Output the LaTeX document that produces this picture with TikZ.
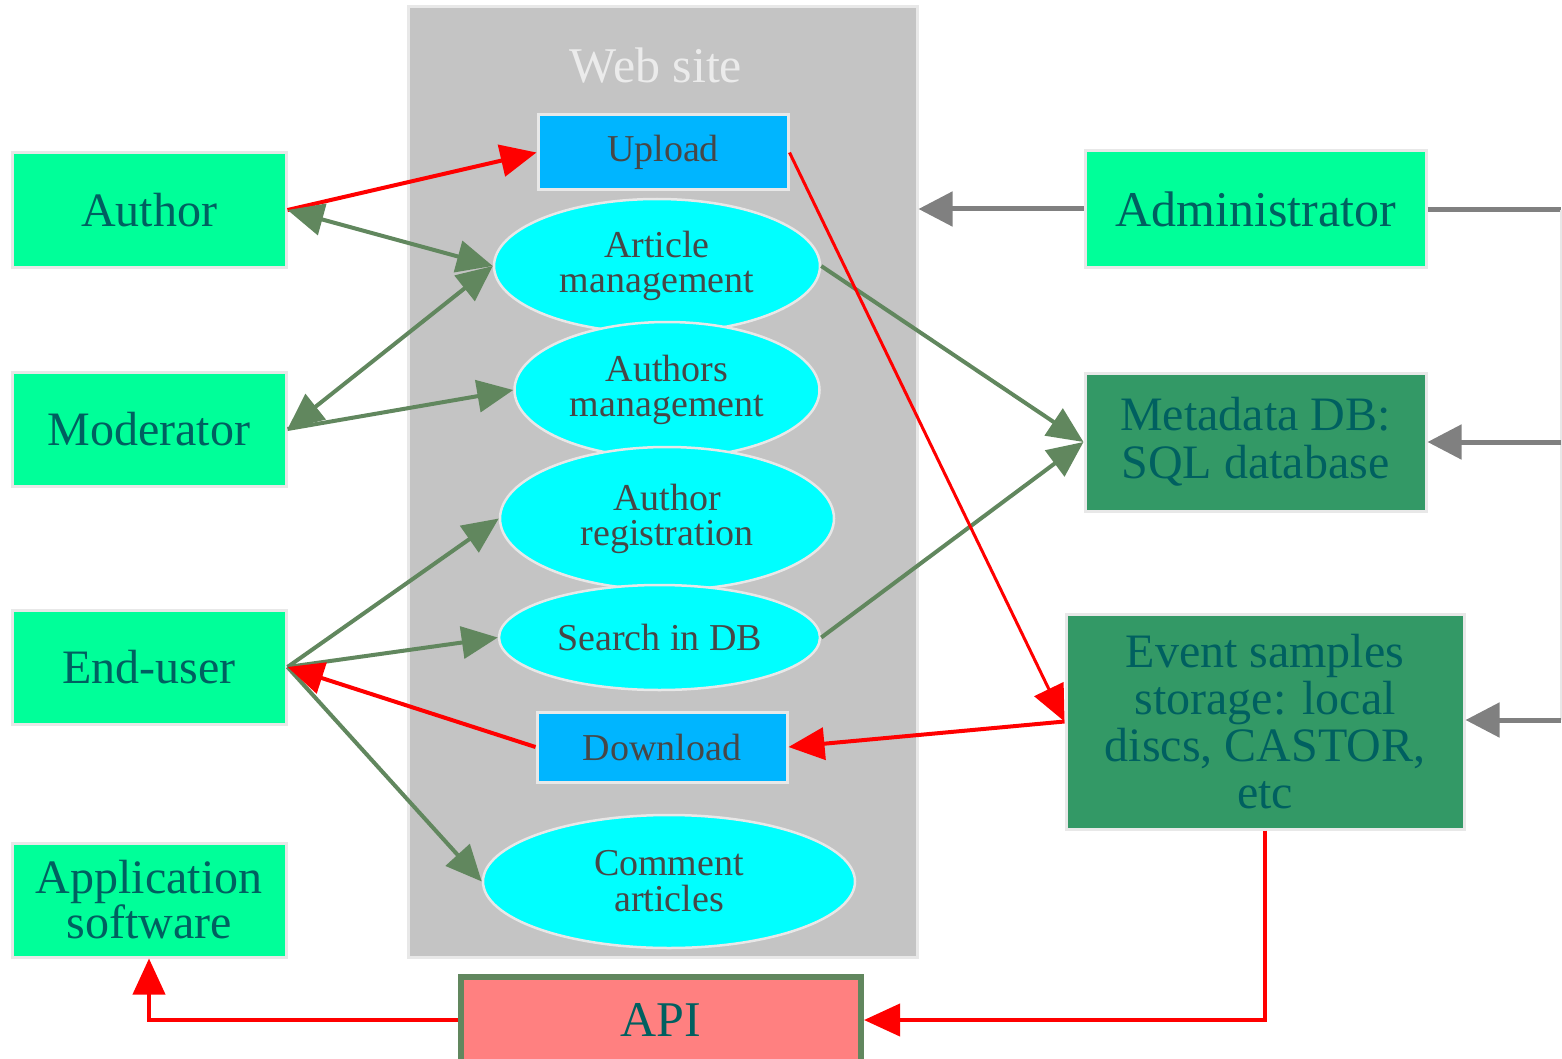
\documentclass[tikz,border=0pt]{standalone}
\usepackage{fontspec}
\setmainfont{Liberation Serif}
\newfontfamily\tmsfont{Liberation Serif}
\usetikzlibrary{arrows.meta,shapes.geometric}

\definecolor{boxgreen}{HTML}{00FF99}
\definecolor{seagreen}{HTML}{339966}
\definecolor{tealtext}{HTML}{006060}
\definecolor{casetext}{HTML}{474747}
\definecolor{casecyan}{HTML}{00FFFF}
\definecolor{skyblue}{HTML}{00B5FF}
\definecolor{panelgray}{HTML}{C4C4C4}
\definecolor{edgegray}{HTML}{E8E8E8}
\definecolor{titlegray}{HTML}{EBEBEB}
\definecolor{flowgreen}{HTML}{61875E}
\definecolor{ctrlgray}{HTML}{808080}
\definecolor{apired}{HTML}{FF8080}

\begin{document}
\begin{tikzpicture}[x=1pt,y=-1pt,
  actor/.style={rectangle, draw=edgegray, line width=3pt, fill=boxgreen,
    text=tealtext, inner sep=0pt, align=center,
    font=\tmsfont\fontsize{48}{45}\selectfont},
  store/.style={actor, fill=seagreen},
  usecase/.style={ellipse, draw=edgegray, line width=2.5pt, fill=casecyan,
    text=casetext, inner sep=0pt, align=center,
    font=\tmsfont\fontsize{38}{35}\selectfont},
  pagebox/.style={rectangle, draw=edgegray, line width=3pt, fill=skyblue,
    text=casetext, inner sep=0pt, minimum width=250pt,
    font=\tmsfont\fontsize{38}{40}\selectfont},
  tip/.tip={Triangle[length=36pt,width=32pt]},
  flow/.style={draw=flowgreen, line width=4pt, -tip},
  flow2/.style={draw=flowgreen, line width=4pt, tip-tip},
  dataflow/.style={draw=red, line width=4pt, -tip},
  ctrl/.style={draw=ctrlgray, line width=5pt, -{Triangle[length=34pt,width=34pt]}},
]
\clip (0,0) rectangle (1562,1059);
\useasboundingbox (0,0) rectangle (1562,1059);

% web site panel
\node[rectangle, draw=edgegray, line width=3pt, fill=panelgray,
      minimum width=509pt, minimum height=950pt, inner sep=0pt] (web) at (662.5,482) {};
\node[text=titlegray, font=\tmsfont\fontsize{50}{50}\selectfont] (webtitle) at (656,66) {Web site};

% pages and use cases
\node[pagebox, minimum height=75pt] (upload) at (663,152.5) {Upload};
\node[usecase, minimum width=326pt, minimum height=134pt] (art) at (657,266) {Article\\management};
\node[usecase, minimum width=305pt, minimum height=136pt] (authm) at (667,390) {Authors\\management};
\node[usecase, minimum width=334pt, minimum height=143pt] (reg) at (667,518.5) {Author\\registration};
\node[usecase, minimum width=321pt, minimum height=105pt] (search) at (659.5,637.5) {Search in DB};
\node[pagebox, minimum height=70pt] (download) at (662,747) {Download};
\node[usecase, minimum width=372pt, minimum height=133pt, font=\tmsfont\fontsize{38}{36}\selectfont] (comment) at (669,881.5) {Comment\\articles};

% actors
\node[actor, minimum width=274pt, minimum height=114pt] (author) at (149,210) {Author};
\node[actor, minimum width=274pt, minimum height=114pt] (moderator) at (149,429) {Moderator};
\node[actor, minimum width=274pt, minimum height=114pt] (enduser) at (149,667) {End-user};
\node[actor, minimum width=274pt, minimum height=114pt] (appsoft) at (149,900) {Application\\software};
\node[actor, minimum width=341pt, minimum height=116pt, font=\tmsfont\fontsize{50}{50}\selectfont] (admin) at (1255.5,209) {Administrator};

% storage
\node[store, minimum width=341pt, minimum height=138pt, font=\tmsfont\fontsize{48}{48}\selectfont] (meta) at (1255.5,442) {Metadata DB:\\SQL database};
\node[store, minimum width=398pt, minimum height=215pt, font=\tmsfont\fontsize{48}{47}\selectfont] (event) at (1265,721.5) {Event samples\\storage: local\\discs, CASTOR,\\etc};

% API
\node[rectangle, draw=flowgreen, line width=6pt, fill=apired, text=tealtext,
      minimum width=400pt, minimum height=86pt, inner sep=0pt,
      font=\tmsfont\fontsize{50}{50}\selectfont] (api) at (661,1020) {API};

% actor interactions
\draw[dataflow] (author.east) -- (upload.west);
\draw[flow2] (author.east) -- (art.west);
\draw[flow2] (moderator.east) -- (art.west);
\draw[flow] (moderator.east) -- (authm.west);
\draw[flow] (enduser.east) -- (reg.west);
\draw[flow] (enduser.east) -- (search.west);
\draw[flow] (enduser.east) -- (comment.west);
\draw[dataflow] (download.west) -- (enduser.east);

% data flows
\draw[flow] (art.east) -- (meta.west);
\draw[flow] (search.east) -- (meta.west);
\draw[dataflow, line width=3pt] (upload.east) -- (event.west);
\draw[dataflow] (event.west) -- (download.east);
\draw[dataflow] (event.south) |- (api.east);
\draw[dataflow] (api.west) -| (appsoft.south);

% administration
\coordinate (railtop) at (1561,210);
\coordinate (railbot) at (1561,720);
\draw[ctrl] (admin.west) -- (admin.west -| web.east);
\draw[draw=ctrlgray, line width=5pt] (admin.east |- railtop) -- (railtop);
\draw[draw=edgegray, line width=1.5pt] (railtop) -- (railbot);
\draw[ctrl] (railtop |- meta.east) -- (meta.east);
\draw[ctrl] (railbot) -- (railbot -| event.east);
\end{tikzpicture}
\end{document}
